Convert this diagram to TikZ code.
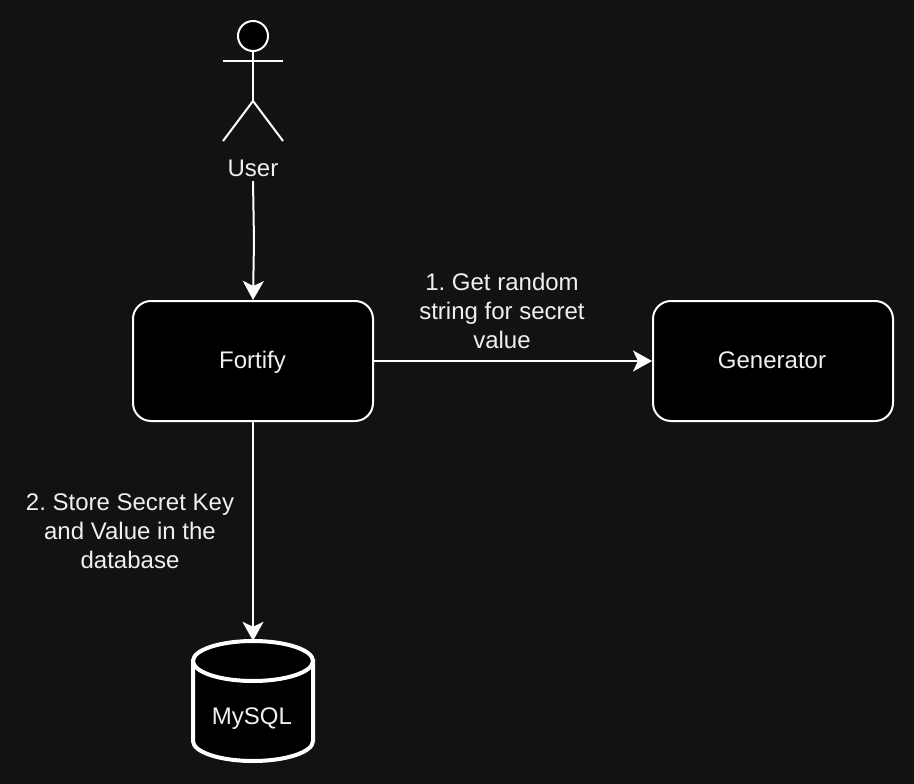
\documentclass[tikz,border=0pt]{standalone}
\usepackage{fontspec}
\setmainfont{Liberation Sans}
\usepackage{xcolor}
\usetikzlibrary{arrows.meta,positioning}
\definecolor{pagebg}{HTML}{121212}
\definecolor{inktext}{HTML}{F0F0F0}
\tikzset{
  txt/.style={text=inktext, font=\frenchspacing\fontsize{24}{29}\selectfont, align=center, inner sep=0pt},
  box/.style={txt, draw=white, fill=black, line width=2pt, rounded corners=18pt, minimum width=240pt, minimum height=120pt, text height=17pt, text depth=3pt},
  link/.style={draw=white, line width=2pt, -{Stealth[length=19pt,width=21pt,inset=5pt]}},
  limb/.style={draw=white, line width=2pt}
}
\begin{document}
\begin{tikzpicture}[x=1pt,y=-1pt]
	\useasboundingbox[fill=pagebg] (0,0) rectangle (914,784);
	% actor
	\node[circle, draw=white, fill=black, line width=2pt, minimum size=30pt, inner sep=0pt] (head) at (253,36) {};
	\coordinate (armL) at (223,61);
	\coordinate (armR) at (283,61);
	\coordinate (hip) at (253,101);
	\coordinate (legL) at (223,141);
	\coordinate (legR) at (283,141);
	\draw[limb] (head.south) -- (hip);
	\draw[limb] (armL) -- (armR);
	\draw[limb] (legL) -- (hip) -- (legR);
	\node[txt, minimum height=26pt] (user) at (253,168) {User};
	% boxes
	\node[box] (fortify) at (253,361) {\hspace{-1pt}Fortify};
	\node[box] (generator) at (773,361) {\hspace{-2pt}Generator};
	\node[minimum width=120pt, minimum height=120pt, inner sep=0pt] (mysql) at (253,701) {};
	% cylinder
	\draw[draw=white, fill=black, line width=4pt] (193,661) -- (193,741) arc[x radius=60, y radius=20, start angle=180, end angle=0] -- (313,661) -- cycle;
	\draw[draw=white, fill=black, line width=4pt] (253,661) ellipse[x radius=60, y radius=20];
	\node[txt, text height=17pt, text depth=5pt] (mysqltxt) at (252,718) {MySQL};
	% links
	\coordinate (bend) at (254,241);
	\draw[link] (user.south) -- (bend) -- (fortify.north);
	\draw[link] (fortify.east) -- (generator.west);
	\draw[link] (fortify.south) -- (mysql.north);
	\node[txt] (getlbl) at (502,311) {1. Get random\\string for secret\\value};
	\node[txt] (storelbl) at (130,531) {2. Store Secret Key\\and Value in the\\database};
\end{tikzpicture}
\end{document}
